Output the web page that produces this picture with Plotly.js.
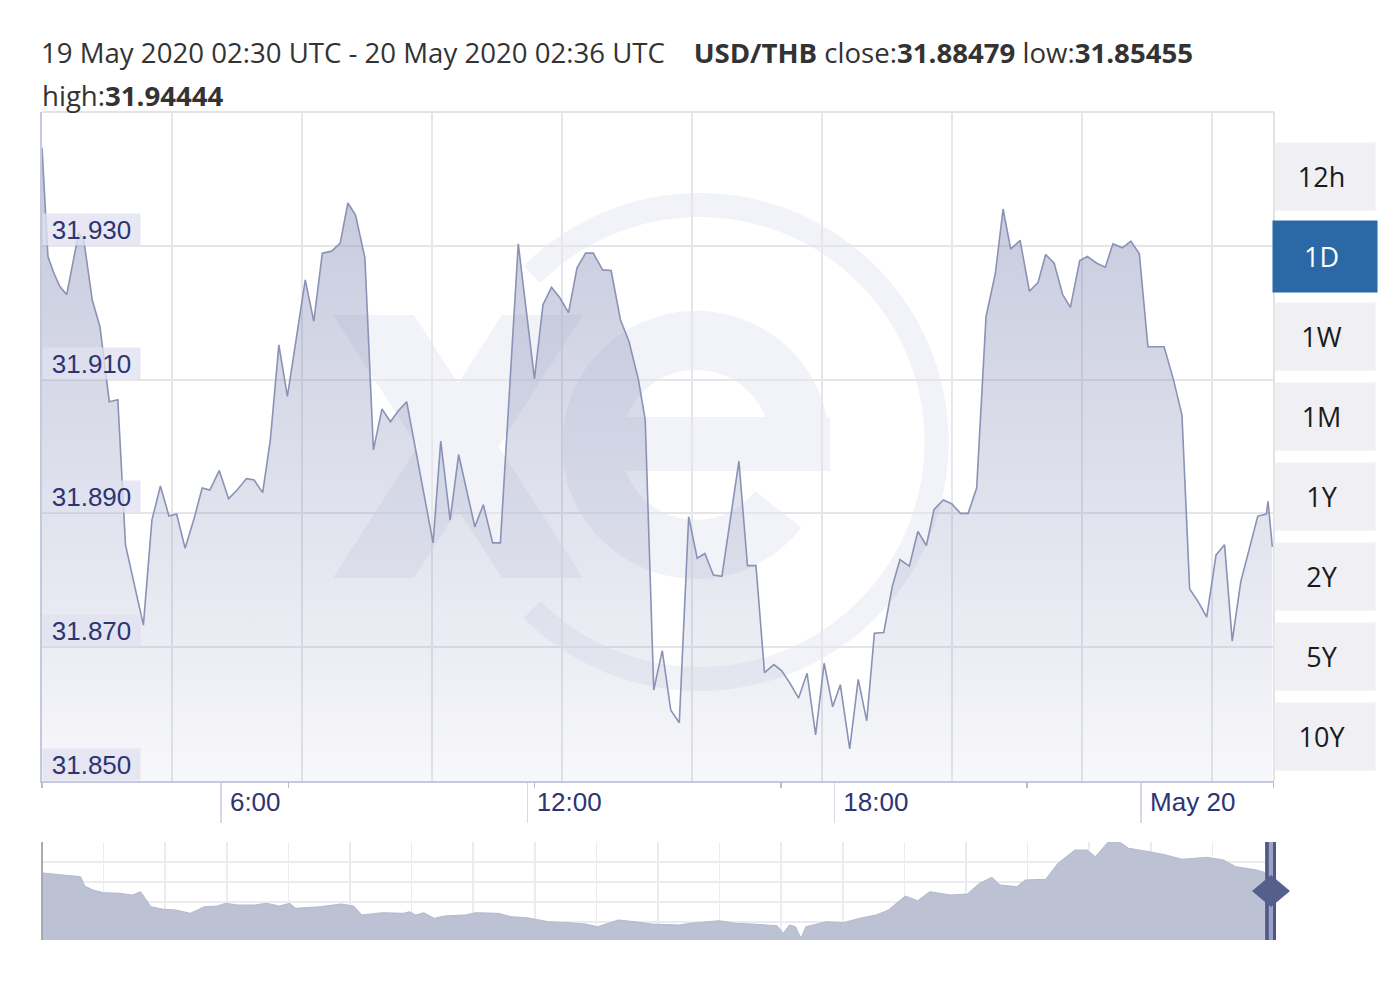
<!DOCTYPE html>
<html>
<head>
<meta charset="utf-8">
<script src="https://cdn.plot.ly/plotly-3.0.1.min.js"></script>
<style>
html,body{margin:0;padding:0;background:#ffffff;}
#chart{width:1387px;height:990px;}
</style>
</head>
<body>
<div id="chart"></div>
<script>
// ---------------- DATA ----------------
const times = [
'2020-05-19 02:30','2020-05-19 02:37','2020-05-19 02:44','2020-05-19 02:51','2020-05-19 02:59','2020-05-19 03:13','2020-05-19 03:19','2020-05-19 03:29','2020-05-19 03:38','2020-05-19 03:49',
'2020-05-19 03:59','2020-05-19 04:08','2020-05-19 04:29','2020-05-19 04:39','2020-05-19 04:49','2020-05-19 04:59','2020-05-19 05:08','2020-05-19 05:18','2020-05-19 05:28','2020-05-19 05:38',
'2020-05-19 05:47','2020-05-19 05:58','2020-05-19 06:09','2020-05-19 06:19','2020-05-19 06:30','2020-05-19 06:39','2020-05-19 06:49','2020-05-19 06:58','2020-05-19 07:08','2020-05-19 07:18',
'2020-05-19 07:39','2020-05-19 07:49','2020-05-19 07:59','2020-05-19 08:10','2020-05-19 08:20','2020-05-19 08:29','2020-05-19 08:38','2020-05-19 08:49','2020-05-19 08:59','2020-05-19 09:09',
'2020-05-19 09:19','2020-05-19 09:28','2020-05-19 09:38','2020-05-19 10:09','2020-05-19 10:18','2020-05-19 10:29','2020-05-19 10:39','2020-05-19 10:58','2020-05-19 11:08','2020-05-19 11:19',
'2020-05-19 11:28','2020-05-19 11:49','2020-05-19 12:08','2020-05-19 12:18','2020-05-19 12:28','2020-05-19 12:38','2020-05-19 12:48','2020-05-19 12:58','2020-05-19 13:08','2020-05-19 13:17',
'2020-05-19 13:28','2020-05-19 13:38','2020-05-19 13:49','2020-05-19 13:59','2020-05-19 14:10','2020-05-19 14:18','2020-05-19 14:28','2020-05-19 14:38','2020-05-19 14:48','2020-05-19 14:58',
'2020-05-19 15:09','2020-05-19 15:19','2020-05-19 15:28','2020-05-19 15:38','2020-05-19 15:48','2020-05-19 16:08','2020-05-19 16:18','2020-05-19 16:28','2020-05-19 16:38','2020-05-19 16:49',
'2020-05-19 16:58','2020-05-19 17:08','2020-05-19 17:18','2020-05-19 17:28','2020-05-19 17:38','2020-05-19 17:48','2020-05-19 17:58','2020-05-19 18:07','2020-05-19 18:18','2020-05-19 18:28',
'2020-05-19 18:38','2020-05-19 18:47','2020-05-19 18:58','2020-05-19 19:08','2020-05-19 19:17','2020-05-19 19:28','2020-05-19 19:38','2020-05-19 19:48','2020-05-19 19:57','2020-05-19 20:08',
'2020-05-19 20:18','2020-05-19 20:28','2020-05-19 20:37','2020-05-19 20:47','2020-05-19 20:58','2020-05-19 21:09','2020-05-19 21:18','2020-05-19 21:27','2020-05-19 21:38','2020-05-19 21:49',
'2020-05-19 21:59','2020-05-19 22:08','2020-05-19 22:18','2020-05-19 22:28','2020-05-19 22:37','2020-05-19 22:48','2020-05-19 22:57','2020-05-19 23:08','2020-05-19 23:18','2020-05-19 23:27',
'2020-05-19 23:38','2020-05-19 23:48','2020-05-19 23:58','2020-05-20 00:08','2020-05-20 00:17','2020-05-20 00:27','2020-05-20 00:38','2020-05-20 00:48','2020-05-20 00:57','2020-05-20 01:07',
'2020-05-20 01:17','2020-05-20 01:28','2020-05-20 01:38','2020-05-20 01:47','2020-05-20 01:57','2020-05-20 02:07','2020-05-20 02:17','2020-05-20 02:27','2020-05-20 02:29','2020-05-20 02:34'
];
const rates = [
31.9447,31.9284,31.9259,31.9239,31.9227,31.9319,31.9309,31.9219,31.9179,31.9067,
31.9070,31.8853,31.8733,31.8890,31.8941,31.8896,31.8899,31.8848,31.8890,31.8938,
31.8935,31.8964,31.8922,31.8935,31.8952,31.8950,31.8931,31.9010,31.9152,31.9075,
31.9249,31.9187,31.9289,31.9292,31.9304,31.9364,31.9346,31.9282,31.8995,31.9056,
31.9037,31.9053,31.9067,31.8856,31.9008,31.8890,31.8988,31.8880,31.8913,31.8856,
31.8856,31.9303,31.9101,31.9212,31.9238,31.9222,31.9200,31.9267,31.9289,31.9289,
31.9264,31.9263,31.9189,31.9157,31.9100,31.9040,31.8636,31.8695,31.8606,31.8587,
31.8895,31.8833,31.8840,31.8808,31.8806,31.8978,31.8822,31.8822,31.8662,31.8674,
31.8665,31.8646,31.8624,31.8661,31.8569,31.8676,31.8611,31.8644,31.8548,31.8652,
31.8590,31.8721,31.8722,31.8791,31.8831,31.8821,31.8873,31.8852,31.8906,31.8920,
31.8914,31.8900,31.8900,31.8938,31.9194,31.9259,31.9355,31.9295,31.9308,31.9232,
31.9245,31.9287,31.9274,31.9227,31.9208,31.9278,31.9284,31.9274,31.9268,31.9303,
31.9297,31.9307,31.9288,31.9149,31.9149,31.9149,31.9100,31.9047,31.8787,31.8768,
31.8745,31.8838,31.8853,31.8709,31.8798,31.8848,31.8896,31.8899,31.8918,31.8850
];

const xRangeStart = '2020-05-19 02:30';
const xRangeEnd = '2020-05-20 02:36';
const xTickTimes = ['2020-05-19 06:00','2020-05-19 12:00','2020-05-19 18:00','2020-05-20 00:00'];
const xTickLabels = ['6:00','12:00','18:00','May 20'];
const yTickValues = [31.85,31.87,31.89,31.91,31.93];
const yTickLabels = ['31.850','31.870','31.890','31.910','31.930'];
const yRange = [31.85,31.95];

// navigator (overview) series: days from window start, rate
const navDays = [
0.02,0.74,0.94,1.04,1.24,1.50,1.89,2.20,2.40,2.65,
2.96,3.26,3.61,3.96,4.27,4.47,4.77,5.17,5.47,5.78,
6.03,6.18,6.78,7.28,7.59,7.79,8.29,8.80,8.95,9.10,
9.30,9.55,9.80,10.31,10.56,11.11,11.42,11.82,12.32,12.82,
13.23,13.53,14.03,14.44,14.84,15.52,15.78,16.49,16.89,17.29,
17.90,18.05,18.20,18.35,18.48,18.60,19.10,19.51,19.91,20.31,
20.61,21.02,21.32,21.62,22.13,22.53,22.83,23.13,23.33,23.74,
23.94,24.44,24.74,25.15,25.45,25.65,25.95,26.26,26.46,26.96,
27.37,27.76,28.37,28.77,29.07,29.58,29.83,30.00
];
const navRates = [
31.935,31.920,31.9165,31.870,31.850,31.8365,31.8335,31.825,31.8415,31.7665,
31.7535,31.750,31.7335,31.7665,31.770,31.7835,31.775,31.775,31.7835,31.770,
31.7835,31.7585,31.7665,31.780,31.770,31.725,31.7365,31.7335,31.7415,31.725,
31.7365,31.7085,31.720,31.725,31.7365,31.7335,31.7165,31.7115,31.6915,31.6865,
31.680,31.6665,31.700,31.6915,31.680,31.675,31.6835,31.6965,31.6835,31.680,
31.6715,31.6335,31.675,31.6665,31.6085,31.6665,31.6915,31.6865,31.7085,31.725,
31.750,31.820,31.7965,31.8415,31.825,31.830,31.8835,31.9135,31.875,31.8665,
31.900,31.9035,31.9835,32.050,32.050,32.0165,32.088,32.088,32.0585,32.0415,
32.025,32.0035,32.0135,32.000,31.9665,31.950,31.9335,31.925
];
const navRange = [31.60,32.09];
const navDayRange = [0,30];

const rangeButtons = ['12h','1D','1W','1M','1Y','2Y','5Y','10Y'];
const activeButton = '1D';

const periodText = '19 May 2020 02:30 UTC - 20 May 2020 02:36 UTC';
const pairName = 'USD/THB';
const closeText = '31.88479';
const lowText = '31.85455';
const highText = '31.94444';

// ---------------- LAYOUT CONSTANTS ----------------
const W = 1387, H = 990;
const ML = 42, MR = 113, MT = 112, MB = 50;
const PW = W - ML - MR, PH = H - MT - MB;
const mainBottomPx = 781, navTopPx = 842;
const mainDomain = [(H - MB - mainBottomPx) / PH, 1];
const navDomain = [0, (H - MB - navTopPx) / PH];
const px2x = px => (px - ML) / PW;
const py2y = py => (H - MB - py) / PH;

const labelFont = {family: 'Liberation Sans, Arial, sans-serif', size: 26, color: '#2e3472'};
const uiFont = {family: 'Open Sans, Noto Sans, sans-serif', size: 27, color: '#1a1a1a'};
const titleFont = {family: 'Open Sans, sans-serif', size: 27.6, color: '#333333'};
const gridColor = '#e6e6ea';

// watermark ("xe" logo) as svg image, in plot-area pixel space
const plotHpx = mainBottomPx - MT;
const wm = 'rgb(242,243,248)';
const svg = `<svg xmlns="http://www.w3.org/2000/svg" width="${PW}" height="${plotHpx}" viewBox="0 0 ${PW} ${plotHpx}">
<path d="M 490 162.4 A 237 237 0 1 1 490 497.6" fill="none" stroke="${wm}" stroke-width="24"/>
<path d="M 758.5 333 A 104.5 104.5 0 1 0 736.3 397.3" fill="none" stroke="${wm}" stroke-width="59"/>
<rect x="560" y="305" width="228" height="54" fill="${wm}"/>
<polygon points="291,203 372,203 541,466 460,466" fill="${wm}"/>
<polygon points="460,203 541,203 372,466 291,466" fill="${wm}"/>
</svg>`;
const svgUri = 'data:image/svg+xml;charset=utf-8,' + encodeURIComponent(svg);

// ---------------- TRACES ----------------
const mainTrace = {
  type: 'scatter', mode: 'lines', x: times, y: rates,
  xaxis: 'x', yaxis: 'y',
  fill: 'tozeroy',
  fillgradient: {
    type: 'vertical', start: yRange[0], stop: yRange[1],
    colorscale: [[0, 'rgba(132,139,182,0.06)'], [0.45, 'rgba(132,139,182,0.27)'], [1, 'rgba(132,139,182,0.50)']]
  },
  line: {color: '#8a92b6', width: 1.6},
  hoverinfo: 'skip', showlegend: false
};
const navTrace = {
  type: 'scatter', mode: 'lines', x: navDays, y: navRates,
  xaxis: 'x5', yaxis: 'y2',
  fill: 'tozeroy', fillcolor: '#bcc1d3',
  line: {color: '#b4b9cd', width: 1},
  hoverinfo: 'skip', showlegend: false
};
// empty traces so the decorative overlay axes (grid, minor ticks, labels) get drawn
const axisHolders = ['x2', 'x3', 'x4'].map(ax => ({
  type: 'scatter', mode: 'lines', x: [], y: [], xaxis: ax, yaxis: 'y', hoverinfo: 'skip', showlegend: false
}));

// ---------------- ANNOTATIONS ----------------
const annotations = [];
yTickValues.forEach((v, i) => {
  annotations.push({
    xref: 'x domain', yref: 'y', x: 0, y: v, xanchor: 'left', yanchor: 'bottom',
    text: yTickLabels[i], showarrow: false, width: 97, height: 31, borderpad: 0,
    bgcolor: 'rgba(224,226,239,0.78)', font: labelFont, align: 'center', valign: 'middle'
  });
});
rangeButtons.forEach((b, i) => {
  const active = b === activeButton;
  annotations.push({
    xref: 'paper', yref: 'paper', x: px2x(1325), y: py2y(176.5 + 80 * i),
    xanchor: 'center', yanchor: 'middle', showarrow: false,
    text: b + '&nbsp;', width: active ? 104 : 100, height: active ? 71 : 67, borderpad: 0,
    bgcolor: active ? '#2a69a6' : '#efeff4',
    font: Object.assign({}, uiFont, {color: active ? '#ffffff' : '#1a1a1a'})
  });
});
annotations.push({
  xref: 'paper', yref: 'paper', x: px2x(41), y: py2y(95), xanchor: 'left', yanchor: 'middle',
  showarrow: false, borderpad: 0,
  text: 'high:<b>' + highText + '</b>', font: titleFont
});

// ---------------- SHAPES ----------------
const navMidY = py2y((navTopPx + H - MB) / 2);
const shapes = [
  // plot-area top and right borders
  {type: 'line', xref: 'x domain', yref: 'y domain', x0: 0, x1: 1, y0: 1, y1: 1, line: {color: '#e3e3e7', width: 2}},
  {type: 'line', xref: 'x domain', yref: 'y domain', x0: 1, x1: 1, y0: 0, y1: 1, line: {color: '#e3e3e7', width: 2}},
  // navigator left edge
  {type: 'line', xref: 'paper', yref: 'y2 domain', x0: 0, x1: 0, y0: 0, y1: 1, line: {color: '#8d8f99', width: 1.5}},
  // navigator right handle
  {type: 'rect', xref: 'paper', yref: 'y2 domain', xsizemode: 'pixel', xanchor: 1, x0: -9, x1: 2, y0: 0, y1: 1,
   fillcolor: '#9ba2c3', line: {width: 0}},
  {type: 'line', xref: 'paper', yref: 'y2 domain', xsizemode: 'pixel', xanchor: 1, x0: -7, x1: -7, y0: 0, y1: 1,
   line: {color: '#4f5987', width: 3.5}},
  {type: 'line', xref: 'paper', yref: 'y2 domain', xsizemode: 'pixel', xanchor: 1, x0: 0.5, x1: 0.5, y0: 0, y1: 1,
   line: {color: '#4f5987', width: 3}},
  {type: 'path', xref: 'paper', yref: 'paper', xsizemode: 'pixel', ysizemode: 'pixel', xanchor: 1, yanchor: navMidY,
   path: 'M -22 0 L -3 16 L 16 0 L -3 -16 Z', fillcolor: '#555f8b', line: {width: 0}}
];

// ---------------- LAYOUT ----------------
const layout = {
  width: W, height: H,
  margin: {l: ML, r: MR, t: MT, b: MB, pad: 0},
  paper_bgcolor: '#ffffff', plot_bgcolor: 'rgba(0,0,0,0)',
  showlegend: false,
  title: {
    text: periodText + '&nbsp;&nbsp;&nbsp;&nbsp;<b>' + pairName + '</b> close:<b>' + closeText + '</b> low:<b>' + lowText + '</b>',
    xref: 'container', yref: 'container', x: 41 / W, xanchor: 'left', y: 1 - 53 / H, yanchor: 'middle',
    font: titleFont
  },
  xaxis: {
    type: 'date', range: [xRangeStart, xRangeEnd], anchor: 'y', domain: [0, 1],
    tickvals: xTickTimes, ticktext: xTickLabels, showticklabels: false,
    ticks: 'outside', ticklen: 40, tickwidth: 1.5, tickcolor: '#d6d9e7',
    showgrid: false, zeroline: false, showline: true, linecolor: '#c5c9df', linewidth: 2
  },
  xaxis2: {
    overlaying: 'x', anchor: 'y', range: [0, PW / 130], tick0: 0, dtick: 1,
    showgrid: true, gridcolor: gridColor, gridwidth: 2, ticks: '', showticklabels: false,
    zeroline: false, showline: false
  },
  xaxis3: {
    overlaying: 'x', anchor: 'y', range: [0, PW / 246.3], tick0: 1, dtick: 1,
    showgrid: false, ticks: 'outside', ticklen: 6, tickwidth: 1.5, tickcolor: '#b8bdd5',
    showticklabels: false, zeroline: false, showline: false
  },
  xaxis4: {
    overlaying: 'x', anchor: 'y', type: 'date', range: [xRangeStart, xRangeEnd],
    tickvals: xTickTimes, ticktext: xTickLabels, ticks: '',
    ticklabelposition: 'outside right', ticklabelshift: 9, ticklabelstandoff: 3,
    tickfont: labelFont, showgrid: false, zeroline: false, showline: false
  },
  yaxis: {
    domain: mainDomain, anchor: 'x', range: yRange,
    tick0: yRange[0], dtick: 0.02, showticklabels: false, ticks: '',
    showgrid: true, gridcolor: gridColor, gridwidth: 2, zeroline: false,
    showline: true, linecolor: '#c5c9df', linewidth: 2
  },
  xaxis5: {
    anchor: 'y2', domain: [0, 1], range: navDayRange, tick0: 0, dtick: 1.5,
    showgrid: true, gridcolor: '#ececf0', gridwidth: 1.5, ticks: '', showticklabels: false,
    zeroline: false, showline: false
  },
  yaxis2: {
    anchor: 'x5', domain: navDomain, range: navRange, tick0: 31.69, dtick: 0.1,
    showgrid: true, gridcolor: '#ececf0', gridwidth: 1.5, ticks: '', showticklabels: false,
    zeroline: false, showline: false
  },
  images: [{
    source: svgUri, xref: 'x domain', yref: 'y domain', x: 0, y: 1, sizex: 1, sizey: 1,
    xanchor: 'left', yanchor: 'top', sizing: 'stretch', layer: 'below'
  }],
  annotations: annotations,
  shapes: shapes
};

Plotly.newPlot('chart', [mainTrace, navTrace].concat(axisHolders), layout, {displayModeBar: false, staticPlot: true});
</script>
</body>
</html>
